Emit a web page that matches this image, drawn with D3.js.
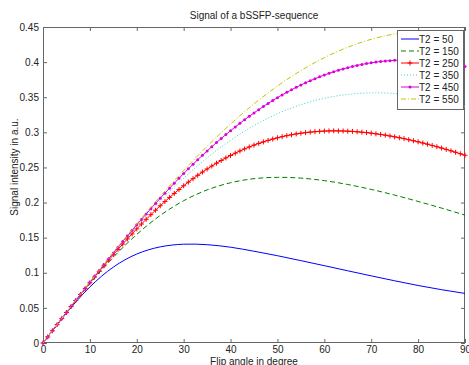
<!DOCTYPE html>
<html>
<head>
<meta charset="utf-8">
<script src="https://cdn.jsdelivr.net/npm/d3@7"></script>
<style>
  html, body { margin: 0; padding: 0; background: #fff; }
  svg { display: block; font-family: "Liberation Sans", Arial, sans-serif; }
</style>
</head>
<body>
<svg id="chart" width="469" height="365"></svg>
<script>
// ---- data ----
const anglesCoarse = [0,5,10,15,20,25,30,35,40,45,50,55,60,65,70,75,80,85,90];
const anglesFine = d3.range(0, 91, 1);

const t2_50  = [0, 0.0426, 0.0798, 0.1081, 0.1267, 0.1369, 0.1407, 0.1400, 0.1364, 0.1307, 0.1243, 0.1173, 0.1101, 0.1028, 0.0956, 0.0886, 0.0819, 0.0759, 0.0706];
const t2_150 = [0, 0.0433, 0.0846, 0.1221, 0.1547, 0.1816, 0.2026, 0.2180, 0.2282, 0.2340, 0.2359, 0.2348, 0.2312, 0.2257, 0.2187, 0.2106, 0.2016, 0.1921, 0.1821];
const t2_250 = [
  0, .0087,.0174,.0261,.0348,.0434,.0520,.0605,.0690,.0774,
  .0857,.0939,.1020,.1100,.1179,.1257,.1333,.1408,.1482,.1554,
  .1625,.1694,.1761,.1827,.1891,.1954,.2014,.2073,.2130,.2186,
  .2239,.2291,.2340,.2388,.2434,.2478,.2520,.2561,.2599,.2636,
  .2670,.2703,.2735,.2764,.2792,.2818,.2842,.2864,.2885,.2904,
  .2922,.2938,.2953,.2966,.2977,.2987,.2996,.3003,.3009,.3014,
  .3018,.3020,.3021,.3020,.3019,.3016,.3013,.3008,.3002,.2996,
  .2988,.2979,.2970,.2960,.2948,.2936,.2923,.2910,.2895,.2880,
  .2865,.2848,.2831,.2813,.2795,.2776,.2757,.2737,.2716,.2695,
  .2674];
const t2_350 = [0, 0.0435, 0.0862, 0.1273, 0.1662, 0.2021, 0.2347, 0.2637, 0.2886, 0.3096, 0.3265, 0.3394, 0.3485, 0.3540, 0.3562, 0.3553, 0.3515, 0.3452, 0.3367];
const t2_450 = [
  0, .0087,.0174,.0262,.0349,.0435,.0522,.0608,.0694,.0780,
  .0865,.0949,.1033,.1117,.1200,.1282,.1364,.1445,.1525,.1604,
  .1683,.1760,.1837,.1913,.1987,.2061,.2134,.2205,.2276,.2345,
  .2413,.2480,.2545,.2610,.2673,.2735,.2795,.2854,.2912,.2968,
  .3023,.3077,.3129,.3180,.3229,.3277,.3323,.3368,.3412,.3453,
  .3494,.3533,.3570,.3606,.3641,.3674,.3705,.3735,.3763,.3790,
  .3816,.3840,.3862,.3884,.3903,.3921,.3938,.3953,.3967,.3980,
  .3991,.4000,.4009,.4016,.4021,.4026,.4028,.4030,.4030,.4029,
  .4027,.4024,.4019,.4013,.4006,.3998,.3988,.3977,.3966,.3953,
  .3939];
const t2_550 = [0, 0.0436, 0.0867, 0.1288, 0.1697, 0.2087, 0.2457, 0.2801, 0.3118, 0.3405, 0.3659, 0.3879, 0.4063, 0.4212, 0.4325, 0.4401, 0.4442, 0.4448, 0.4420];

const seriesLabels = ["T2 = 50", "T2 = 150", "T2 = 250", "T2 = 350", "T2 = 450", "T2 = 550"];
const xTicks = [0,10,20,30,40,50,60,70,80,90];
const yTicks = [0,0.05,0.1,0.15,0.2,0.25,0.3,0.35,0.4,0.45];
const yTickLabels = ["0","0.05","0.1","0.15","0.2","0.25","0.3","0.35","0.4","0.45"];

const titleText = "Signal of a bSSFP-sequence";
const xLabelText = "Flip angle in degree";
const yLabelText = "Signal intensity in a.u.";

(function draw() {
  const series = [
    { label: seriesLabels[0], x: anglesCoarse, y: t2_50,  color: "#0000ff", dash: null,      marker: null },
    { label: seriesLabels[1], x: anglesCoarse, y: t2_150, color: "#008000", dash: "5,3",     marker: null },
    { label: seriesLabels[2], x: anglesFine,   y: t2_250, color: "#ff0000", dash: null,      marker: "plus" },
    { label: seriesLabels[3], x: anglesCoarse, y: t2_350, color: "#40d0d0", dash: "1,2",     marker: null },
    { label: seriesLabels[4], x: anglesFine,   y: t2_450, color: "#dd00dd", dash: null,      marker: "dot" },
    { label: seriesLabels[5], x: anglesCoarse, y: t2_550, color: "#c4c400", dash: "5,2,1,2", marker: null }
  ];

  const svg = d3.select("#chart");
  const pL = 43, pR = 465, pT = 27, pB = 343;
  const x = d3.scaleLinear().domain([0, 90]).range([pL, pR]);
  const y = d3.scaleLinear().domain([0, 0.45]).range([pB, pT]);
  const axisColor = "#666";
  const tickLen = 4;
  const fontSize = 10;
  const fam = "\"Liberation Sans\", Arial, sans-serif";

  svg.append("rect").attr("x", 0).attr("y", 0).attr("width", 469).attr("height", 365).attr("fill", "#fff");

  svg.append("defs").append("clipPath").attr("id", "plotclip")
    .append("rect").attr("x", pL - 3).attr("y", pT - 3).attr("width", pR - pL + 6).attr("height", pB - pT + 6);

  const gxB = svg.append("g").attr("transform", `translate(0,${pB})`)
    .call(d3.axisBottom(x).tickValues(xTicks).tickSize(-tickLen).tickPadding(3).tickFormat(d3.format("d")));
  const gxT = svg.append("g").attr("transform", `translate(0,${pT})`)
    .call(d3.axisTop(x).tickValues(xTicks).tickSize(-tickLen).tickFormat(""));
  const gyL = svg.append("g").attr("transform", `translate(${pL},0)`)
    .call(d3.axisLeft(y).tickValues(yTicks).tickSize(-tickLen).tickPadding(4).tickFormat((d, i) => yTickLabels[i]));
  const gyR = svg.append("g").attr("transform", `translate(${pR},0)`)
    .call(d3.axisRight(y).tickValues(yTicks).tickSize(-tickLen).tickFormat(""));

  [gxB, gxT, gyL, gyR].forEach(g => {
    g.select(".domain").remove();
    g.selectAll(".tick line").attr("stroke", axisColor).attr("stroke-width", 1);
    g.selectAll("text").attr("fill", "#222").attr("font-size", fontSize).attr("font-family", fam);
  });

  svg.append("rect").attr("x", pL + 0.5).attr("y", pT + 0.5)
    .attr("width", pR - pL - 1).attr("height", pB - pT - 1)
    .attr("fill", "none").attr("stroke", axisColor).attr("stroke-width", 1);

  const plot = svg.append("g").attr("clip-path", "url(#plotclip)");
  series.forEach(s => {
    const pts = s.x.map((a, i) => [a, s.y[i]]);
    const line = d3.line().x(d => x(d[0])).y(d => y(d[1]))
      .curve(s.marker ? d3.curveLinear : d3.curveNatural);
    plot.append("path").datum(pts)
      .attr("d", line)
      .attr("fill", "none")
      .attr("stroke", s.color)
      .attr("stroke-width", 1)
      .attr("stroke-dasharray", s.dash);
    if (s.marker === "plus") {
      plot.append("g").selectAll("path").data(pts).join("path")
        .attr("d", d => { const cx = x(d[0]), cy = y(d[1]), r = 2.5;
          return `M${cx - r},${cy}H${cx + r}M${cx},${cy - r}V${cy + r}`; })
        .attr("stroke", s.color).attr("stroke-width", 1).attr("fill", "none");
    } else if (s.marker === "dot") {
      plot.append("g").selectAll("circle").data(pts).join("circle")
        .attr("cx", d => x(d[0])).attr("cy", d => y(d[1])).attr("r", 1.5)
        .attr("fill", s.color);
    }
  });

  svg.append("text").attr("x", (pL + pR) / 2).attr("y", 19).attr("font-family", fam)
    .attr("text-anchor", "middle").attr("font-size", fontSize).attr("fill", "#222").text(titleText);
  svg.append("text").attr("x", (pL + pR) / 2).attr("y", 365).attr("font-family", fam)
    .attr("text-anchor", "middle").attr("font-size", fontSize).attr("fill", "#222").text(xLabelText);
  svg.append("text").attr("transform", "translate(18,167) rotate(-90)").attr("font-family", fam)
    .attr("text-anchor", "middle").attr("font-size", fontSize).attr("fill", "#222").text(yLabelText);

  const lg = svg.append("g");
  const lgX = 397, lgY = 30, lgW = 66, lgH = 79, rowH = 12;
  lg.append("rect").attr("x", lgX + 0.5).attr("y", lgY + 0.5).attr("width", lgW).attr("height", lgH)
    .attr("fill", "#fff").attr("stroke", axisColor).attr("stroke-width", 1);
  series.forEach((s, i) => {
    const cy = lgY + 9 + i * rowH;
    lg.append("line").attr("x1", lgX + 4).attr("x2", lgX + 22).attr("y1", cy).attr("y2", cy)
      .attr("stroke", s.color).attr("stroke-width", 1).attr("stroke-dasharray", s.dash);
    const mx = lgX + 13;
    if (s.marker === "plus") {
      lg.append("path").attr("d", `M${mx - 2.5},${cy}H${mx + 2.5}M${mx},${cy - 2.5}V${cy + 2.5}`)
        .attr("stroke", s.color).attr("stroke-width", 1);
    } else if (s.marker === "dot") {
      lg.append("circle").attr("cx", mx).attr("cy", cy).attr("r", 1.5).attr("fill", s.color);
    }
    lg.append("text").attr("x", lgX + 22).attr("y", cy + 3.6).attr("font-family", fam)
      .attr("font-size", fontSize).attr("fill", "#222").text(s.label);
  });
})();
</script>
</body>
</html>
